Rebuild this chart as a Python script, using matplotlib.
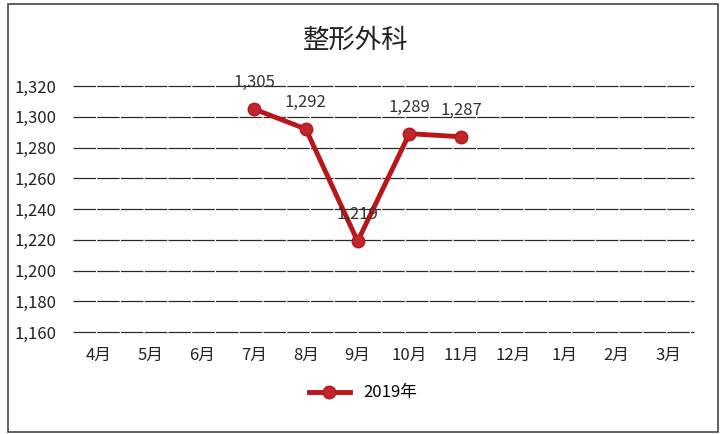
import matplotlib.pyplot as plt
from matplotlib.patches import Rectangle

plt.rcParams['font.family'] = ['Noto Sans CJK JP', 'DejaVu Sans']

months = ['4月', '5月', '6月', '7月', '8月', '9月', '10月', '11月', '12月', '1月', '2月', '3月']
values_2019 = [None, None, None, 1305, 1292, 1219, 1289, 1287, None, None, None, None]
yticks = [1160, 1180, 1200, 1220, 1240, 1260, 1280, 1300, 1320]

fig = plt.figure(figsize=(7.26, 4.34), dpi=100)
ax = fig.add_axes([73 / 726, 1 - 332 / 434, (694 - 73) / 726, (332 - 86) / 434])

xs = [i for i, v in enumerate(values_2019) if v is not None]
ys = [v for v in values_2019 if v is not None]
ax.plot(xs, ys, color='#B8161B', lw=3.5, marker='o', ms=9,
        markerfacecolor='#C0262B', markeredgecolor='#B8161B', label='2019年', zorder=3)
for x, y in zip(xs, ys):
    ax.annotate(f'{y:,}', (x, y), xytext=(0, 13), textcoords='offset points',
                ha='center', va='bottom', fontsize=12, color='#333333')

ax.set_xlim(-0.5, 11.5)
ax.set_ylim(1160, 1320)
ax.set_xticks(range(len(months)))
ax.set_xticklabels(months)
ax.set_yticks(yticks)
ax.set_yticklabels([f'{t:,}' for t in yticks])
ax.tick_params(length=0, labelsize=12, colors='#222222')
ax.tick_params(axis='x', pad=11)
ax.tick_params(axis='y', pad=12)
for t in yticks:
    ax.axhline(t, color='#2a2a2a', lw=0.9, ls=(0, (18, 1)), clip_on=False, zorder=1)
for s in ax.spines.values():
    s.set_visible(False)

fig.text(0.49, 1 - 40 / 434, '整形外科', ha='center', va='center', fontsize=19, color='#222222')
fig.legend(loc='center', bbox_to_anchor=(0.5, 1 - 393 / 434), frameon=False,
           fontsize=12, handlelength=2.5)

fig.patches.append(Rectangle((8 / 726, 2 / 434), 710 / 726, 428 / 434, transform=fig.transFigure,
                             fill=False, edgecolor='#444444', lw=1.2))

fig.savefig('out.png', dpi=100)
